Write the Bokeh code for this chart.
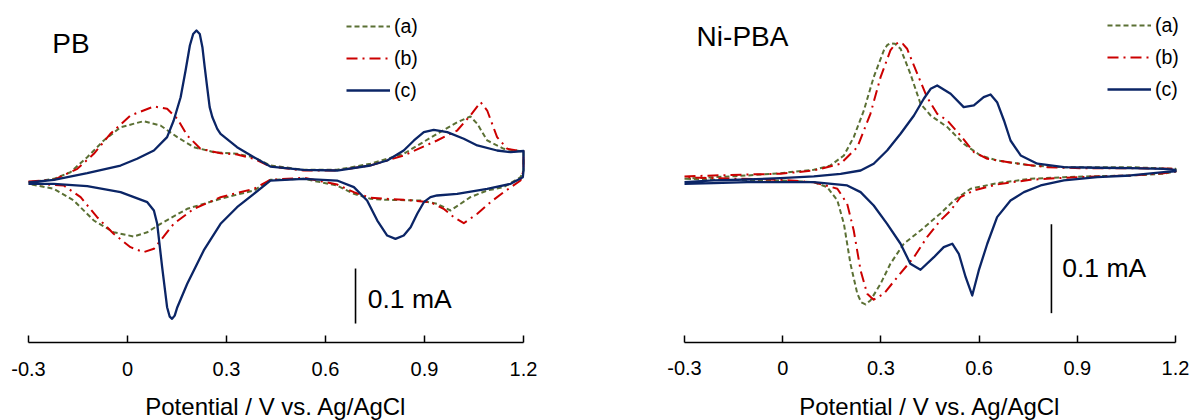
from bokeh.plotting import figure
from bokeh.layouts import row
from bokeh.models import FixedTicker, Legend, LegendItem, Label, Range1d, LinearAxis
from bokeh.embed import file_html
from bokeh.resources import INLINE

# ---------------- data (potential V, current mA) ----------------
tick_values = [-0.3, 0, 0.3, 0.6, 0.9, 1.2]
tick_labels = ["-0.3", "0", "0.3", "0.6", "0.9", "1.2"]
series_labels = ["(a)", "(b)", "(c)"]
panel_titles = ["PB", "Ni-PBA"]
x_label = "Potential / V vs. Ag/AgCl"
scale_text = "0.1 mA"
scale_value = 0.1

# PB panel
pb_a_V = [-0.30, -0.223, -0.173, -0.122, -0.072, -0.021, 0.049, 0.100, 0.151, 0.201, 0.262, 0.332, 0.383, 0.433,
          0.534, 0.635, 0.736, 0.837, 0.938, 0.999, 1.039, 1.060, 1.090, 1.140, 1.191, 1.200,
          1.200, 1.191, 1.140, 1.090, 1.039, 0.979, 0.938, 0.888, 0.787, 0.736, 0.686, 0.635, 0.534, 0.433,
          0.383, 0.282, 0.181, 0.100, 0.060, 0.019, -0.042, -0.102, -0.163, -0.223, -0.30]
pb_a_I = [0.000, 0.0067, 0.0187, 0.046, 0.0764, 0.1005, 0.1115, 0.1036, 0.0824, 0.0642, 0.0551, 0.0522, 0.046, 0.0309,
          0.0231, 0.0231, 0.034, 0.0522, 0.0885, 0.1096, 0.120, 0.1067, 0.0764, 0.0613, 0.0569, 0.0573,
          0.0218, 0.0096, -0.0085, -0.0145, -0.0267, -0.0509, -0.0387, -0.0327, -0.0315, -0.0296, -0.0205, -0.0055,
          0.0067, 0.0049, -0.0145, -0.0296, -0.0478, -0.0751, -0.0904, -0.0982, -0.0904, -0.0691, -0.0327, -0.0115, -0.0024]

pb_b_V = [-0.30, -0.223, -0.152, -0.102, -0.052, 0.009, 0.080, 0.120, 0.151, 0.181, 0.221, 0.282, 0.332, 0.383, 0.433,
          0.534, 0.635, 0.736, 0.837, 0.938, 0.999, 1.039, 1.070, 1.090, 1.120, 1.151, 1.191, 1.200,
          1.200, 1.191, 1.140, 1.100, 1.060, 1.019, 0.989, 0.958, 0.918, 0.837, 0.736, 0.686, 0.635, 0.534, 0.433,
          0.383, 0.282, 0.201, 0.140, 0.100, 0.080, 0.049, 0.009, -0.042, -0.092, -0.142, -0.193, -0.30]
pb_b_I = [0.0018, 0.0049, 0.0249, 0.0522, 0.0885, 0.1218, 0.1382, 0.134, 0.1158, 0.0855, 0.0613, 0.0533, 0.0509, 0.0431,
          0.0291, 0.0218, 0.0218, 0.0309, 0.0491, 0.0764, 0.0945, 0.1218, 0.146, 0.1309, 0.0824, 0.0613, 0.0569, 0.0573,
          0.0218, 0.0036, -0.0176, -0.0358, -0.0569, -0.074, -0.0631, -0.0478, -0.0358, -0.0315, -0.0278, -0.0176,
          -0.0036, 0.0085, 0.0049, -0.0115, -0.0267, -0.0478, -0.0751, -0.1055, -0.1205, -0.1267, -0.1176, -0.0933,
          -0.0631, -0.0267, -0.0055, -0.0013]

pb_c_V = [-0.30, -0.223, -0.122, -0.021, 0.029, 0.080, 0.120, 0.140, 0.161, 0.176, 0.189, 0.199, 0.209, 0.219, 0.227,
          0.234, 0.2415, 0.249, 0.257, 0.272, 0.282, 0.332, 0.383, 0.433, 0.533, 0.635, 0.736, 0.787, 0.837, 0.868,
          0.898, 0.928, 0.969, 1.019, 1.060, 1.120, 1.161, 1.200,
          1.200, 1.198, 1.161, 1.090, 0.999, 0.938, 0.918, 0.898, 0.878, 0.858, 0.837, 0.812, 0.787, 0.757, 0.726,
          0.686, 0.635, 0.534, 0.433, 0.383, 0.332, 0.282, 0.231, 0.181, 0.151, 0.143, 0.135, 0.128, 0.120, 0.105,
          0.090, 0.080, 0.060, -0.021, -0.122, -0.223, -0.30]
pb_c_I = [0.000, 0.0049, 0.0169, 0.0309, 0.0431, 0.0582, 0.0824, 0.1127, 0.155, 0.2036, 0.249, 0.270, 0.2764, 0.270,
          0.246, 0.2097, 0.173, 0.137, 0.119, 0.0976, 0.0885, 0.0642, 0.046, 0.029, 0.023, 0.0218, 0.0309, 0.04,
          0.0582, 0.0764, 0.0915, 0.0958, 0.0915, 0.0795, 0.0673, 0.0582, 0.0551, 0.0573,
          0.0218, 0.0096, -0.0024, -0.0115, -0.0205, -0.0236, -0.0267, -0.0358, -0.0569, -0.0813, -0.0964, -0.1024,
          -0.0964, -0.0691, -0.0327, -0.0085, 0.0036, 0.0067, 0.0036, -0.0205, -0.0449, -0.0751, -0.1236, -0.1842,
          -0.2267, -0.242, -0.2478, -0.244, -0.2267, -0.154, -0.0751, -0.0509, -0.0358, -0.0176, -0.0067, -0.0024,
          -0.0024]

# Ni-PBA panel
ni_a_V = [-0.30, -0.210, -0.108, -0.007, 0.095, 0.146, 0.187, 0.217, 0.248, 0.278, 0.309, 0.319, 0.329, 0.343, 0.360,
          0.390, 0.421, 0.452, 0.503, 0.553, 0.604, 0.655, 0.757, 0.859, 0.961, 1.063, 1.200,
          1.200, 1.164, 1.063, 0.961, 0.859, 0.757, 0.655, 0.574, 0.523, 0.482, 0.421, 0.370, 0.329, 0.299, 0.268,
          0.253, 0.240, 0.228, 0.207, 0.187, 0.167, 0.136, 0.095, -0.007, -0.210, -0.30]
ni_a_I = [0.0019, 0.0037, 0.0056, 0.0082, 0.012, 0.0169, 0.0281, 0.0487, 0.0787, 0.1161, 0.1461, 0.152, 0.1543, 0.1535,
          0.148, 0.1199, 0.0862, 0.073, 0.0599, 0.0412, 0.0281, 0.0225, 0.0169, 0.0149, 0.0149, 0.0149, 0.0131,
          0.0101, 0.0075, 0.0056, 0.0048, 0.0037, 0.0019, -0.003, -0.0093, -0.0225, -0.0371, -0.0562, -0.0711,
          -0.0936, -0.1161, -0.1348, -0.1393, -0.137, -0.1273, -0.0936, -0.0487, -0.0225, -0.0075, -0.0019, 0.0,
          0.0008, 0.0019]

ni_b_V = [-0.30, -0.210, -0.108, -0.007, 0.095, 0.177, 0.228, 0.268, 0.299, 0.329, 0.342, 0.355, 0.367, 0.380, 0.411,
          0.441, 0.472, 0.503, 0.543, 0.584, 0.625, 0.706, 0.808, 0.910, 1.063, 1.200,
          1.200, 1.164, 1.063, 0.961, 0.859, 0.757, 0.655, 0.584, 0.543, 0.513, 0.482, 0.441, 0.401, 0.350, 0.309,
          0.278, 0.258, 0.238, 0.217, 0.197, 0.167, 0.095, -0.007, -0.210, -0.30]
ni_b_I = [0.0045, 0.0056, 0.0067, 0.0075, 0.0112, 0.0188, 0.0374, 0.0749, 0.1161, 0.1461, 0.1525, 0.1554, 0.1535,
          0.148, 0.1199, 0.0936, 0.0749, 0.0674, 0.0506, 0.0318, 0.0244, 0.0194, 0.0149, 0.0138, 0.0138, 0.0131,
          0.0101, 0.0082, 0.0056, 0.0045, 0.003, 0.0008, -0.0045, -0.0112, -0.0188, -0.0337, -0.0449, -0.0637,
          -0.0862, -0.1087, -0.1273, -0.134, -0.1273, -0.1011, -0.0562, -0.0262, -0.0093, -0.0019, 0.0008, 0.0026,
          0.0037]

ni_c_V = [-0.30, -0.210, -0.108, -0.007, 0.095, 0.177, 0.238, 0.278, 0.319, 0.360, 0.401, 0.431, 0.452, 0.472, 0.513,
          0.553, 0.584, 0.614, 0.635, 0.655, 0.676, 0.696, 0.727, 0.778, 0.859, 0.961, 1.063, 1.164, 1.200,
          1.200, 1.164, 1.063, 0.961, 0.859, 0.788, 0.737, 0.696, 0.655, 0.625, 0.599, 0.579, 0.559, 0.538, 0.518,
          0.492, 0.462, 0.421, 0.390, 0.360, 0.319, 0.278, 0.238, 0.197, 0.095, -0.007, -0.108, -0.210, -0.30]
ni_c_I = [-0.0019, 0.0, 0.0011, 0.0026, 0.0045, 0.0075, 0.0112, 0.0188, 0.0337, 0.0525, 0.073, 0.0918, 0.103, 0.1067,
          0.0974, 0.0824, 0.0843, 0.0936, 0.0966, 0.088, 0.0674, 0.0449, 0.0281, 0.0188, 0.0149, 0.0143, 0.0138,
          0.0131, 0.0118,
          0.0101, 0.0093, 0.0056, 0.0037, 0.0, -0.0056, -0.0131, -0.0225, -0.0412, -0.0711, -0.1011, -0.1292,
          -0.1087, -0.0824, -0.0711, -0.0749, -0.0862, -0.1003, -0.0936, -0.0711, -0.0487, -0.0281, -0.0131,
          -0.0056, -0.0019, -0.0019, -0.0019, -0.003, -0.0037]

# ---------------- styles / layout ----------------
FONT = "Liberation Sans"
colors = ["#5B7034", "#CC0000", "#0B2566"]
dashes = ["5 3", "11 5 2 5", "solid"]
widths = [2.0, 2.0, 2.3]

panels = [
    dict(title=panel_titles[0], curves=[(pb_a_V, pb_a_I), (pb_b_V, pb_b_I), (pb_c_V, pb_c_I)],
         width=606, x_rng=(-0.38485, 1.45152), y_rng=(-0.4327, 0.3309), axis_at=-0.2909,
         title_pos=(-0.228, 0.2522), bar=(0.691, -0.2564), bar_text=(0.728, -0.2109),
         legend_loc=(346, 318)),
    dict(title=panel_titles[1], curves=[(ni_a_V, ni_a_I), (ni_b_V, ni_b_I), (ni_c_V, ni_c_I)],
         width=591, x_rng=(-0.53829, 1.26723), y_rng=(-0.2697, 0.2022), axis_at=-0.182,
         title_pos=(-0.263, 0.1618), bar=(0.821, -0.1491), bar_text=(0.854, -0.0983),
         legend_loc=(501, 319)),
]

figs = []
for pd in panels:
    p = figure(width=pd["width"], height=420, output_backend="svg", toolbar_location=None,
               x_range=Range1d(*pd["x_rng"]), y_range=Range1d(*pd["y_rng"]),
               x_axis_location=None, y_axis_location=None,
               min_border_left=0, min_border_right=0, min_border_top=0, min_border_bottom=0)
    p.outline_line_color = None
    p.grid.visible = False
    p.background_fill_color = "white"

    ax = LinearAxis(fixed_location=pd["axis_at"])
    ax.ticker = FixedTicker(ticks=tick_values)
    ax.bounds = (tick_values[0], tick_values[-1])
    ax.major_label_overrides = {v: s for v, s in zip(tick_values, tick_labels)}
    ax.major_label_text_font = FONT
    ax.major_label_text_font_size = "20px"
    ax.major_label_text_color = "black"
    ax.major_label_standoff = 19
    ax.major_tick_in = 7
    ax.major_tick_out = 0
    ax.minor_tick_line_color = None
    ax.axis_line_width = 1.5
    ax.major_tick_line_width = 1.5
    ax.axis_line_color = "black"
    ax.major_tick_line_color = "black"
    ax.axis_label = x_label
    ax.axis_label_text_font = FONT
    ax.axis_label_text_font_size = "24px"
    ax.axis_label_text_font_style = "normal"
    ax.axis_label_text_color = "black"
    ax.axis_label_standoff = 14
    p.add_layout(ax, "below")

    items = []
    for (V, I), c, d, w, lab in zip(pd["curves"], colors, dashes, widths, series_labels):
        r = p.line(V, I, line_color=c, line_dash=d, line_width=w, line_join="round")
        items.append(LegendItem(label=lab, renderers=[r]))

    leg = Legend(items=items, location=pd["legend_loc"], glyph_width=44, glyph_height=24, label_height=24,
                 label_standoff=4, spacing=8, padding=0, margin=0, border_line_alpha=0,
                 background_fill_alpha=0, label_text_font=FONT, label_text_font_size="19.5px",
                 label_text_color="black")
    p.add_layout(leg)

    p.add_layout(Label(x=pd["title_pos"][0], y=pd["title_pos"][1], text=pd["title"], text_font=FONT,
                       text_font_size="28px", text_color="black", text_baseline="middle"))

    bx, by = pd["bar"]
    p.segment(x0=[bx], y0=[by], x1=[bx], y1=[by + scale_value], line_color="black", line_width=1.6)
    p.add_layout(Label(x=pd["bar_text"][0], y=pd["bar_text"][1], text=scale_text, text_font=FONT,
                       text_font_size="26.5px", text_color="black", text_baseline="middle"))
    figs.append(p)

layout = row(*figs)
open("out.html", "w").write(file_html(layout, INLINE))
